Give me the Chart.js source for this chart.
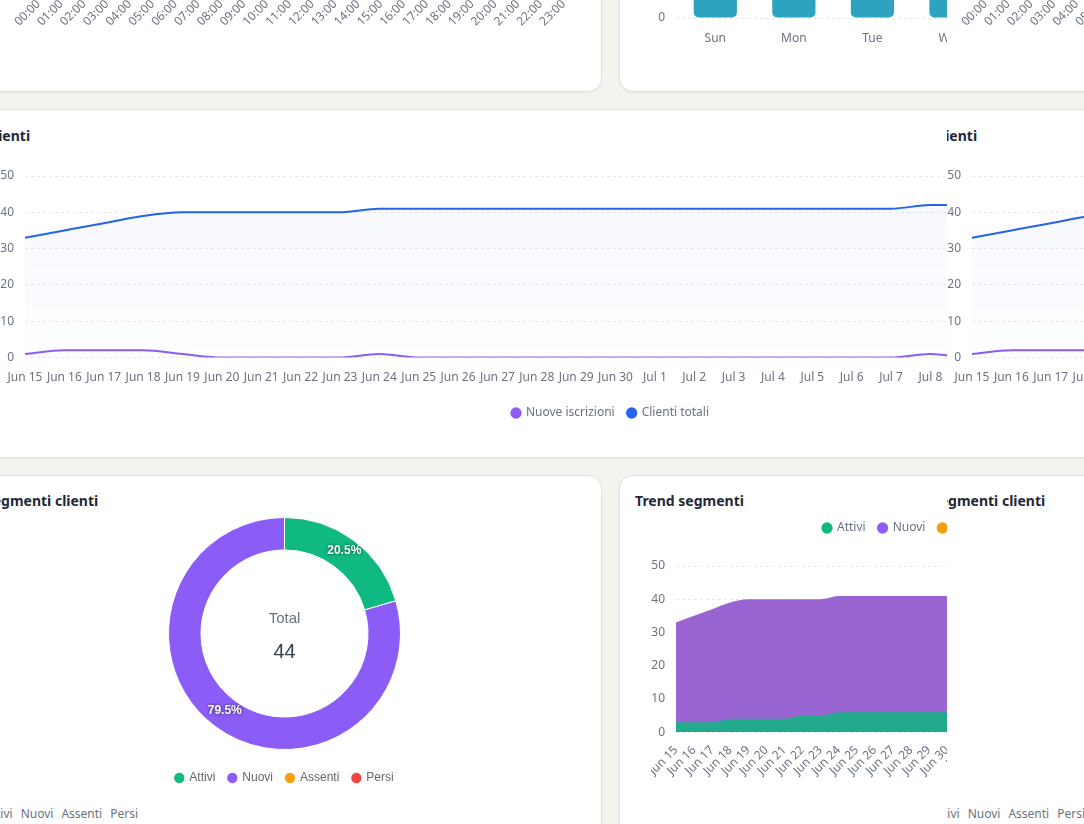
<!DOCTYPE html>
<html>
<head>
<meta charset="utf-8">
<script src="https://cdn.jsdelivr.net/npm/chart.js@4.4.1/dist/chart.umd.min.js"></script>
<style>
html,body{margin:0;padding:0;width:1084px;height:824px;overflow:hidden;background:#f4f4ef;font-family:'Noto Sans',sans-serif;}
.clip{position:absolute;top:0;height:824px;overflow:hidden;}
.page{position:absolute;left:0;top:0;width:1300px;height:824px;}
.card{position:absolute;background:#fff;border:1px solid #e2e2dc;border-radius:14px;box-sizing:border-box;box-shadow:0 1px 2px rgba(0,0,0,0.05);}
.title{position:absolute;font:700 14px/20px 'Noto Sans',sans-serif;color:#1f2937;white-space:nowrap;}
.row{position:absolute;font:400 12px/18px 'Noto Sans',sans-serif;color:#6b7280;white-space:nowrap;display:flex;gap:8px;}
canvas{position:absolute;}
</style>
</head>
<body>
<script>
// ---------- data ----------
const hourLabels = ['00:00','01:00','02:00','03:00','04:00','05:00','06:00','07:00','08:00','09:00','10:00','11:00','12:00','13:00','14:00','15:00','16:00','17:00','18:00','19:00','20:00','21:00','22:00','23:00'];
const hourlyCheckins = [0,0,0,0,0,1,3,6,5,4,3,4,5,3,2,3,5,8,9,7,4,2,1,0];
const weekdayLabels = ['Sun','Mon','Tue','Wed','Thu','Fri','Sat'];
const weekdayCheckins = [14,18,17,19,16,15,9];
const dayLabels = ['Jun 15','Jun 16','Jun 17','Jun 18','Jun 19','Jun 20','Jun 21','Jun 22','Jun 23','Jun 24','Jun 25','Jun 26','Jun 27','Jun 28','Jun 29','Jun 30','Jul 1','Jul 2','Jul 3','Jul 4','Jul 5','Jul 6','Jul 7','Jul 8','Jul 9','Jul 10','Jul 11','Jul 12','Jul 13','Jul 14','Jul 15'];
const nuoveIscrizioni = [1,2,2,2,1,0,0,0,0,1,0,0,0,0,0,0,0,0,0,0,0,0,0,1,0,0,0,1,0,1,0];
const clientiTotali = [33,35,37,39,40,40,40,40,40,41,41,41,41,41,41,41,41,41,41,41,41,41,41,42,42,42,42,43,43,44,44];
const segmentLabels = ['Attivi','Nuovi','Assenti','Persi'];
const segmentCounts = [9,35,0,0];
const attiviTrend = [3,3,3,4,4,4,4,5,5,6,6,6,6,6,6,6,6,6,6,7,7,7,7,8,8,8,8,9,9,9,9];
const nuoviTrend = [30,32,34,35,36,36,36,35,35,35,35,35,35,35,35,35,35,35,35,34,34,34,34,34,34,34,34,34,34,35,35];
const assentiTrend = [0,0,0,0,0,0,0,0,0,0,0,0,0,0,0,0,0,0,0,0,0,0,0,0,0,0,0,0,0,0,0];
const persiTrend = [0,0,0,0,0,0,0,0,0,0,0,0,0,0,0,0,0,0,0,0,0,0,0,0,0,0,0,0,0,0,0];

// ---------- styles ----------
const segmentColors = ['#10b981','#8b5cf6','#f59e0b','#ef4444'];
const GRID = '#e5e7eb';
const TICK = '#6b7280';
Chart.defaults.font.family = "'Noto Sans', sans-serif";
Chart.defaults.font.size = 12;
Chart.defaults.color = TICK;

function solidLegend(chart){
  const items = Chart.defaults.plugins.legend.labels.generateLabels(chart);
  items.forEach(it => {
    const ds = chart.data.datasets[it.datasetIndex];
    it.fillStyle = ds.borderColor; it.strokeStyle = ds.borderColor; it.lineWidth = 0;
  });
  return items;
}
function yFit(w){ return s => { s.width = w; s.paddingTop = 0; s.paddingBottom = 0; }; }
function xFit(padRight, height){ return s => { s.paddingLeft = 0; s.paddingRight = padRight; if (height) s.height = height; }; }

function el(parent, cls, css, text){
  const d = document.createElement('div');
  d.className = cls; d.style.cssText = css;
  if (text) d.textContent = text;
  parent.appendChild(d); return d;
}
function mkCanvas(parent, left, top, w, h){
  const c = document.createElement('canvas');
  c.width = w; c.height = h;
  c.style.cssText = `left:${left}px;top:${top}px;width:${w}px;height:${h}px;`;
  parent.appendChild(c); return c;
}

function buildPage(page){
  el(page,'card','left:-31px;top:-200px;width:633px;height:292px;');
  el(page,'card','left:619px;top:-200px;width:640px;height:292px;');
  el(page,'card','left:-31px;top:109px;width:1290px;height:349px;');
  el(page,'card','left:-31px;top:475px;width:633px;height:420px;');
  el(page,'card','left:619px;top:475px;width:640px;height:420px;');
  el(page,'title','left:-15px;top:126px;','Clienti');
  el(page,'title','left:-15px;top:491px;','Segmenti clienti');
  el(page,'title','left:635px;top:491px;','Trend segmenti');
  const row = el(page,'row','left:-16px;top:805px;');
  segmentLabels.forEach(t => { const s = document.createElement('span'); s.textContent = t; row.appendChild(s); });

  // hourly bar chart (top-left)
  new Chart(mkCanvas(page, 2, -254, 573, 294), {
    type: 'bar',
    data: { labels: hourLabels, datasets: [{ data: hourlyCheckins, backgroundColor: 'rgb(46,163,192)', borderRadius: 5, borderSkipped: false }] },
    options: {
      responsive: false, animation: false, layout: { padding: { top: 12 } },
      plugins: { legend: { display: false }, tooltip: { enabled: false } },
      scales: {
        x: { grid: { display: false, drawTicks: false }, border: { display: false },
             ticks: { padding: 11, autoSkip: false, minRotation: 45, maxRotation: 45 }, afterFit: xFit(0) },
        y: { beginAtZero: true, grid: { color: GRID, drawTicks: false }, border: { display: false, dash: [3,3] },
             ticks: { padding: 11 }, afterFit: yFit(25) }
      }
    }
  });

  // weekday bar chart (top-right)
  new Chart(mkCanvas(page, 651, -250, 575, 304), {
    type: 'bar',
    data: { labels: weekdayLabels, datasets: [{ data: weekdayCheckins, backgroundColor: 'rgb(46,163,192)', borderRadius: 5, borderSkipped: false, barPercentage: 0.55, categoryPercentage: 1 }] },
    options: {
      responsive: false, animation: false, layout: { padding: { top: 12 } },
      plugins: { legend: { display: false }, tooltip: { enabled: false } },
      scales: {
        x: { grid: { display: false, drawTicks: false }, border: { display: false },
             ticks: { padding: 13, autoSkip: false, maxRotation: 0 }, afterFit: xFit(0, 36) },
        y: { beginAtZero: true, grid: { color: GRID, drawTicks: false }, border: { display: false, dash: [3,3] },
             ticks: { padding: 11, stepSize: 5 }, afterFit: yFit(25) }
      }
    }
  });

  // clients line chart (middle)
  new Chart(mkCanvas(page, -3, 164, 1227, 265), {
    type: 'line',
    data: { labels: dayLabels, datasets: [
      { label: 'Nuove iscrizioni', data: nuoveIscrizioni, borderColor: '#8b5cf6', backgroundColor: '#8b5cf6',
        borderWidth: 2, pointRadius: 0, cubicInterpolationMode: 'monotone', fill: false },
      { label: 'Clienti totali', data: clientiTotali, borderColor: '#2563eb', borderWidth: 2, pointRadius: 0, cubicInterpolationMode: 'monotone', fill: 'origin',
        backgroundColor: (c) => { const a = c.chart.chartArea; if (!a) return 'rgba(37,99,235,0.03)';
          const g = c.chart.ctx.createLinearGradient(0, a.top, 0, a.bottom);
          g.addColorStop(0, 'rgba(37,99,235,0.045)'); g.addColorStop(1, 'rgba(37,99,235,0.008)'); return g; } }
    ]},
    options: {
      responsive: false, animation: false, layout: { padding: { top: 12 } },
      plugins: { tooltip: { enabled: false },
        legend: { position: 'bottom', labels: { usePointStyle: true, pointStyle: 'circle', boxWidth: 8, boxHeight: 8, padding: 13, color: TICK, generateLabels: solidLegend } } },
      scales: {
        x: { grid: { display: false, drawTicks: false }, border: { display: false },
             ticks: { padding: 13, autoSkip: false, maxRotation: 0 }, afterFit: xFit(18, 36.4) },
        y: { min: 0, max: 50, grid: { color: GRID, drawTicks: false }, border: { display: false, dash: [3,3] },
             ticks: { padding: 11, stepSize: 10 }, afterFit: yFit(28) }
      }
    }
  });

  // segments doughnut (bottom-left)
  const total = segmentCounts.reduce((a, b) => a + b, 0);
  const pctLabels = { id: 'pctLabels', afterDatasetsDraw(chart){
    const ctx = chart.ctx, meta = chart.getDatasetMeta(0), data = chart.data.datasets[0].data;
    ctx.save(); ctx.font = "bold 12px 'Liberation Sans', Arial, sans-serif";
    ctx.textAlign = 'center'; ctx.textBaseline = 'middle'; ctx.fillStyle = '#fff';
    ctx.shadowColor = 'rgba(0,0,0,0.65)'; ctx.shadowBlur = 3;
    meta.data.forEach((arc, i) => { if (!data[i]) return; const p = arc.tooltipPosition();
      ctx.fillText((data[i] / total * 100).toFixed(1) + '%', p.x, p.y - 3); });
    ctx.restore(); } };
  const centerText = { id: 'centerText', afterDraw(chart){
    const ctx = chart.ctx, a = chart.chartArea, cx = (a.left + a.right) / 2, cy = (a.top + a.bottom) / 2;
    ctx.save(); ctx.textAlign = 'center'; ctx.textBaseline = 'middle';
    ctx.font = "15px 'Liberation Sans', Arial, sans-serif"; ctx.fillStyle = '#6b7280'; ctx.fillText('Total', cx, cy - 15);
    ctx.font = "20px 'Liberation Sans', Arial, sans-serif"; ctx.fillStyle = '#374151'; ctx.fillText(String(total), cx, cy + 19);
    ctx.restore(); } };
  new Chart(mkCanvas(page, 0, 508, 569, 286), {
    type: 'doughnut',
    data: { labels: segmentLabels, datasets: [{ data: segmentCounts, backgroundColor: segmentColors, borderColor: '#ffffff', borderWidth: 1, hoverOffset: 0 }] },
    options: {
      responsive: false, animation: false, radius: 116, cutout: '72%',
      plugins: { tooltip: { enabled: false },
        legend: { position: 'bottom', labels: { usePointStyle: true, pointStyle: 'circle', boxWidth: 8, boxHeight: 8, padding: 13, color: '#666',
          font: { family: "'Liberation Sans', Arial, sans-serif", size: 12 } } } }
    },
    plugins: [pctLabels, centerText]
  });

  // trend stacked area (bottom-right)
  const legendGap = { id: 'legendGap', beforeInit(chart){ const fit = chart.legend.fit;
    chart.legend.fit = function(){ fit.call(this); this.height += 22; }; } };
  const area = (label, data, fillColor, lineColor, fill) => ({ label, data, backgroundColor: fillColor, borderColor: lineColor,
    borderWidth: 0, pointRadius: 0, cubicInterpolationMode: 'monotone', fill });
  new Chart(mkCanvas(page, 651, 509, 569, 280), {
    type: 'line',
    data: { labels: dayLabels, datasets: [
      area('Attivi', attiviTrend, 'rgb(35,170,140)', segmentColors[0], 'origin'),
      area('Nuovi', nuoviTrend, 'rgb(152,101,211)', segmentColors[1], 'origin'),
      area('Assenti', assentiTrend, 'rgb(245,158,11)', segmentColors[2], '-1'),
      area('Persi', persiTrend, 'rgb(239,68,68)', segmentColors[3], '-1')
    ]},
    options: {
      responsive: false, animation: false,
      plugins: { tooltip: { enabled: false },
        legend: { position: 'top', labels: { usePointStyle: true, pointStyle: 'circle', boxWidth: 8, boxHeight: 8, padding: 13, color: TICK, generateLabels: solidLegend } } },
      scales: {
        x: { grid: { display: false, drawTicks: false }, border: { display: false },
             ticks: { padding: 11, autoSkip: false, minRotation: 45, maxRotation: 45 }, afterFit: xFit(2) },
        y: { stacked: true, min: 0, max: 50, grid: { color: GRID, drawTicks: false }, border: { display: false, dash: [3,3] },
             ticks: { padding: 11, stepSize: 10 }, afterFit: yFit(25) }
      }
    },
    plugins: [legendGap]
  });
}

[{ left: 0, width: 947 }, { left: 947, width: 137 }].forEach(v => {
  const clip = el(document.body, 'clip', `left:${v.left}px;width:${v.width}px;`);
  const page = el(clip, 'page', '');
  buildPage(page);
});
</script>
</body>
</html>
